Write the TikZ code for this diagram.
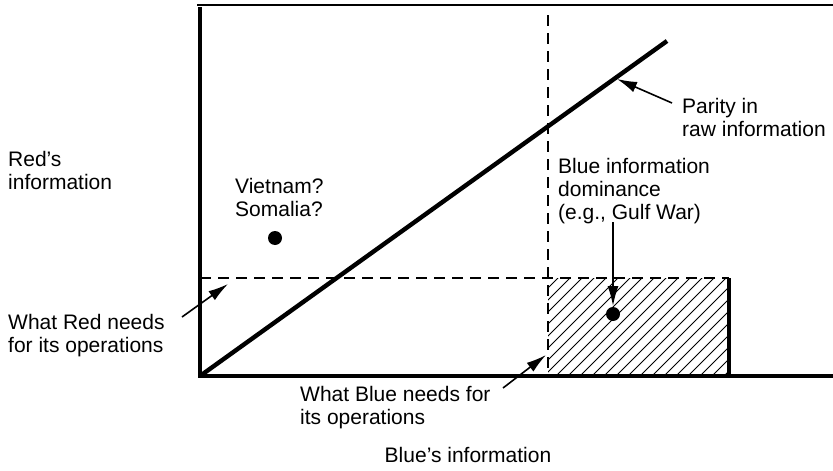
\documentclass[tikz,border=0pt]{standalone}
\usepackage{fontspec}
\setmainfont{Liberation Sans}
\usetikzlibrary{arrows.meta}
\begin{document}
\begin{tikzpicture}[x=1pt,y=-1pt,
  axis/.style={line width=4pt},
  dashline/.style={line width=2.8pt,dash pattern=on 11pt off 7pt},
  lbl/.style={font=\fontsize{21}{23}\selectfont,align=left,inner sep=0pt},
  pointer/.style={line width=1.6pt,-{Latex[length=20pt,width=11pt]}},
  dot/.style={fill=black,circle,inner sep=0pt,minimum size=14pt}]
\useasboundingbox (0,0) rectangle (833,471);
% hatching
\begin{scope}
\clip (548,278) rectangle (729,376);
\foreach \i in {0,12,...,300} {
  \draw[line width=1pt] (548+\i-100,376) -- (548+\i,276);
}
\end{scope}
\coordinate (O) at (200,376);
\coordinate (TopL) at (197,5);
\coordinate (TopR) at (833,5);
\coordinate (AxTop) at (200,7);
\coordinate (AxRight) at (833,376);
\coordinate (DiagEnd) at (667,41);
\draw[line width=2.2pt] (TopL) -- (TopR);
\draw[axis] (AxTop) -- (O) -- (AxRight);
\draw[line width=4.4pt] (O) -- (DiagEnd);
\coordinate (VT) at (548,15);
\coordinate (VB) at (548,376);
\draw[dashline] (VT) -- (VB);
\coordinate (HL) at (200,278);
\coordinate (HR) at (729,278);
\draw[dashline] (HL) -- (HR);
\coordinate (RB) at (729,376);
\draw[axis] (HR) -- (RB);
\node[dot] (d1) at (275,238) {};
\node[dot] (d2) at (613,314) {};
% labels
\node[lbl,anchor=north west] (red) at (8,151) {Red's\\information};
\node[lbl,anchor=north west] (viet) at (235,178) {Vietnam?\\Somalia?};
\node[lbl,anchor=north west] (par) at (682,98) {Parity in\\raw information};
\node[lbl,anchor=north west] (dom) at (558,158) {Blue information\\dominance\\(e.g., Gulf War)};
\node[lbl,anchor=north west] (rneed) at (8,314) {What Red needs\\for its operations};
\node[lbl,anchor=north west] (bneed) at (300,386) {What Blue needs for\\its operations};
\node[lbl,anchor=center] (bx) at (468,455) {Blue's information};
% pointers
\coordinate (p1s) at (672,103); \coordinate (p1e) at (617,79);
\draw[pointer] (p1s) -- (p1e);
\coordinate (p2s) at (613,222); \coordinate (p2e) at (613,306);
\draw[pointer] (p2s) -- (p2e);
\coordinate (p3s) at (182,317); \coordinate (p3e) at (228,284);
\draw[pointer] (p3s) -- (p3e);
\coordinate (p4s) at (503,388); \coordinate (p4e) at (546,355);
\draw[pointer] (p4s) -- (p4e);
\end{tikzpicture}
\end{document}
